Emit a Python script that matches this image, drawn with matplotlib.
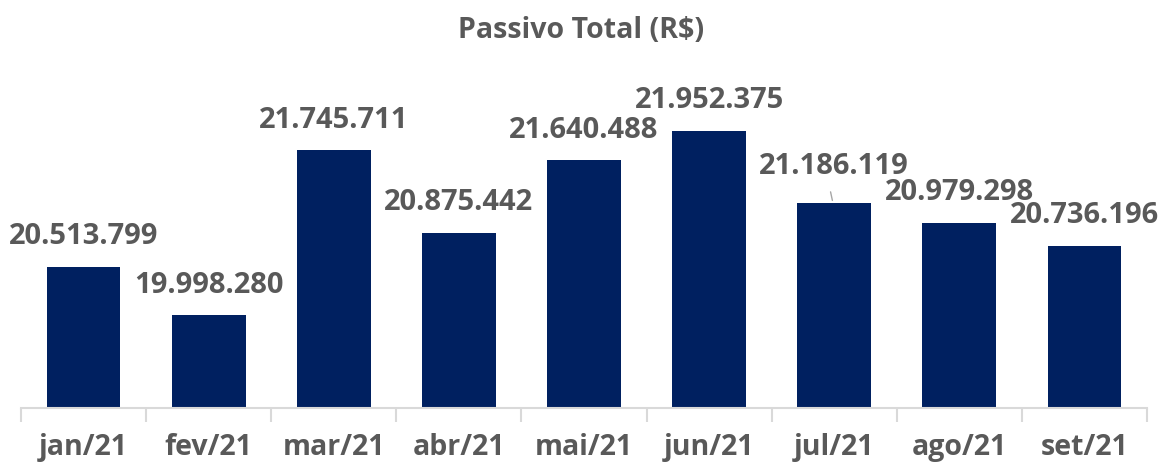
import matplotlib
matplotlib.use("Agg")
import matplotlib.pyplot as plt
from matplotlib.ticker import FixedLocator

categories = ["jan/21", "fev/21", "mar/21", "abr/21", "mai/21", "jun/21", "jul/21", "ago/21", "set/21"]
values = [20513799, 19998280, 21745711, 20875442, 21640488, 21952375, 21186119, 20979298, 20736196]
title = "Passivo Total (R$)"

def fmt(v):
    return f"{v:,}".replace(",", ".")

plt.rcParams['font.family'] = ['Open Sans', 'DejaVu Sans']
TXT = "#595959"
BAR = "#002060"

fig = plt.figure(figsize=(11.63, 4.66), dpi=100)
W, H = 1163, 466
ax = fig.add_axes([21 / W, (H - 408) / H, (1147 - 21) / W, (408 - 77) / H])

x = list(range(len(categories)))
bars = ax.bar(x, values, width=0.59, color=BAR, zorder=2)
ax.set_xlim(-0.5, len(categories) - 0.5)
ax.set_ylim(19020000, 22520000)

for i, (xi, v) in enumerate(zip(x, values)):
    extra = 7 if categories[i] == "jul/21" else 0
    ax.annotate(fmt(v), (xi, v), xytext=(0, 30 + extra), textcoords="offset pixels",
                ha="center", va="center", fontsize=21, fontweight="bold", color=TXT)
    if categories[i] == "jul/21":
        ax.annotate("", (xi - 0.01, v), xytext=(-3, 14), textcoords="offset pixels",
                    arrowprops=dict(arrowstyle="-", color="#a6a6a6", lw=1))

for s in ["top", "right", "left"]:
    ax.spines[s].set_visible(False)
ax.spines["bottom"].set_color("#d9d9d9")
ax.spines["bottom"].set_linewidth(1.5)
ax.set_yticks([])
ax.set_xticks(x)
ax.set_xticklabels(categories, fontsize=20.5, fontweight="bold", color=TXT)
ax.tick_params(axis="x", length=0, pad=18)
ax.xaxis.set_minor_locator(FixedLocator([i - 0.5 for i in range(len(categories) + 1)]))
ax.tick_params(axis="x", which="minor", length=10, width=1.5, color="#d9d9d9")

fig.text(0.5, 1 - 31 / H, title, ha="center", va="center", fontsize=20.5, fontweight="bold", color=TXT)

fig.savefig("out.png", dpi=100)
